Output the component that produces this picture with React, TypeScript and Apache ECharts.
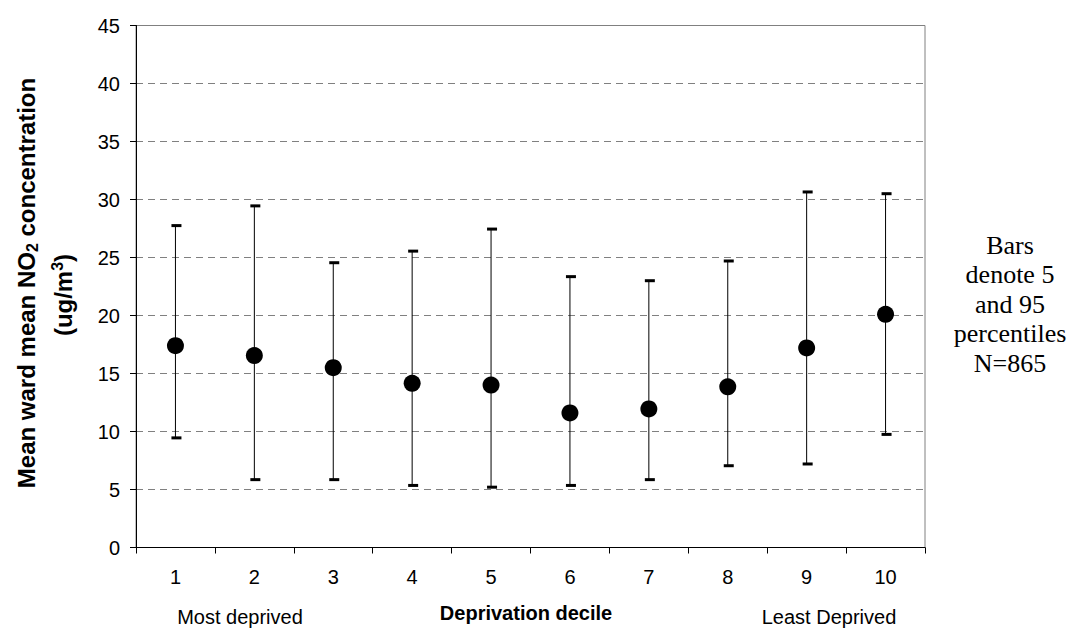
import React, { useEffect, useRef } from "react";
import * as echarts from "echarts";

const categories = ["1", "2", "3", "4", "5", "6", "7", "8", "9", "10"];
const meanValues = [17.4, 16.55, 15.5, 14.15, 14.0, 11.6, 11.95, 13.85, 17.2, 20.1];
const p5Values = [9.45, 5.85, 5.85, 5.35, 5.2, 5.35, 5.85, 7.05, 7.2, 9.75];
const p95Values = [27.75, 29.45, 24.55, 25.55, 27.45, 23.35, 23.0, 24.7, 30.65, 30.5];
const yTicks = { min: 0, max: 45, interval: 5 };

export default function App() {
  const ref = useRef<HTMLDivElement>(null);
  useEffect(() => {
    if (!ref.current) return;
    const chart = echarts.init(ref.current, null, { renderer: "svg" });
    const errData = categories.map((_, i) => [i, p5Values[i], p95Values[i]]);
    const font = "Liberation Sans, Arial, sans-serif";
    chart.setOption({
      animation: false,
      backgroundColor: "#ffffff",
      grid: {
        left: 136,
        top: 25.5,
        right: 146,
        bottom: 80.5,
        show: true,
        borderColor: "#808080",
        borderWidth: 1,
        backgroundColor: "transparent",
      },
      xAxis: {
        type: "category",
        data: categories,
        boundaryGap: true,
        axisLine: { show: true, lineStyle: { color: "#000", width: 1 } },
        axisTick: { show: true, length: 6, lineStyle: { color: "#000" } },
        axisLabel: { color: "#000", fontSize: 20, fontFamily: font, margin: 19 },
        splitLine: { show: false },
      },
      yAxis: {
        type: "value",
        min: yTicks.min,
        max: yTicks.max,
        interval: yTicks.interval,
        axisLine: { show: true, lineStyle: { color: "#000", width: 1 } },
        axisTick: { show: true, length: 6, lineStyle: { color: "#000" } },
        axisLabel: { color: "#000", fontSize: 20, fontFamily: font, margin: 16 },
        splitLine: {
          show: true,
          lineStyle: { color: "#808080", type: [7, 5], width: 1 },
        },
      },
      series: [
        {
          type: "custom",
          data: errData,
          z: 2,
          renderItem: (params: any, api: any) => {
            const x = api.value(0);
            const lo = api.coord([x, api.value(1)]);
            const hi = api.coord([x, api.value(2)]);
            const cx = lo[0];
            const capW = 10;
            const capH = 3;
            return {
              type: "group",
              children: [
                {
                  type: "line",
                  shape: { x1: cx, y1: lo[1], x2: cx, y2: hi[1] },
                  style: { stroke: "#000", lineWidth: 1 },
                },
                {
                  type: "rect",
                  shape: { x: cx - capW / 2 + 1, y: hi[1] - capH / 2, width: capW, height: capH },
                  style: { fill: "#000" },
                },
                {
                  type: "rect",
                  shape: { x: cx - capW / 2 + 1, y: lo[1] - capH / 2, width: capW, height: capH },
                  style: { fill: "#000" },
                },
              ],
            };
          },
        },
        {
          type: "scatter",
          data: meanValues,
          symbol: "circle",
          symbolSize: 17,
          itemStyle: { color: "#000", opacity: 1 },
          z: 3,
        },
      ],
      graphic: [
        {
          type: "text",
          x: 26,
          y: 283,
          rotation: Math.PI / 2,
          style: {
            text: "{b|Mean ward mean NO}{s|2}{b| concentration}",
            rich: {
              b: { fontSize: 24, fontWeight: "bold", fontFamily: font, fill: "#000" },
              s: { fontSize: 16, fontWeight: "bold", fontFamily: font, fill: "#000", padding: [12, 0, 0, 0] },
            },
            align: "center",
            verticalAlign: "middle",
          },
        },
        {
          type: "text",
          x: 63,
          y: 295,
          rotation: Math.PI / 2,
          style: {
            text: "{b|(ug/m}{s|3}{b|)}",
            rich: {
              b: { fontSize: 24, fontWeight: "bold", fontFamily: font, fill: "#000" },
              s: { fontSize: 16, fontWeight: "bold", fontFamily: font, fill: "#000", padding: [0, 0, 12, 0] },
            },
            align: "center",
            verticalAlign: "middle",
          },
        },
        {
          type: "text",
          x: 526,
          y: 613,
          style: {
            text: "Deprivation decile",
            fontSize: 20,
            fontWeight: "bold",
            fontFamily: font,
            fill: "#000",
            align: "center",
            verticalAlign: "middle",
          },
        },
        {
          type: "text",
          x: 240,
          y: 617,
          style: {
            text: "Most deprived",
            fontSize: 20,
            fontFamily: font,
            fill: "#000",
            align: "center",
            verticalAlign: "middle",
          },
        },
        {
          type: "text",
          x: 829,
          y: 617,
          style: {
            text: "Least Deprived",
            fontSize: 20,
            fontFamily: font,
            fill: "#000",
            align: "center",
            verticalAlign: "middle",
          },
        },
        {
          type: "text",
          x: 1010,
          y: 304,
          style: {
            text: "Bars\ndenote 5\nand 95\npercentiles\nN=865",
            fontSize: 26,
            lineHeight: 29.5,
            fontFamily: "Liberation Serif, Times New Roman, serif",
            fill: "#000",
            align: "center",
            verticalAlign: "middle",
          },
        },
      ],
    });
    return () => chart.dispose();
  }, []);
  return (
    <div
      ref={ref}
      style={{ position: "absolute", left: 0, top: 0, width: 1071, height: 628 }}
    />
  );
}
